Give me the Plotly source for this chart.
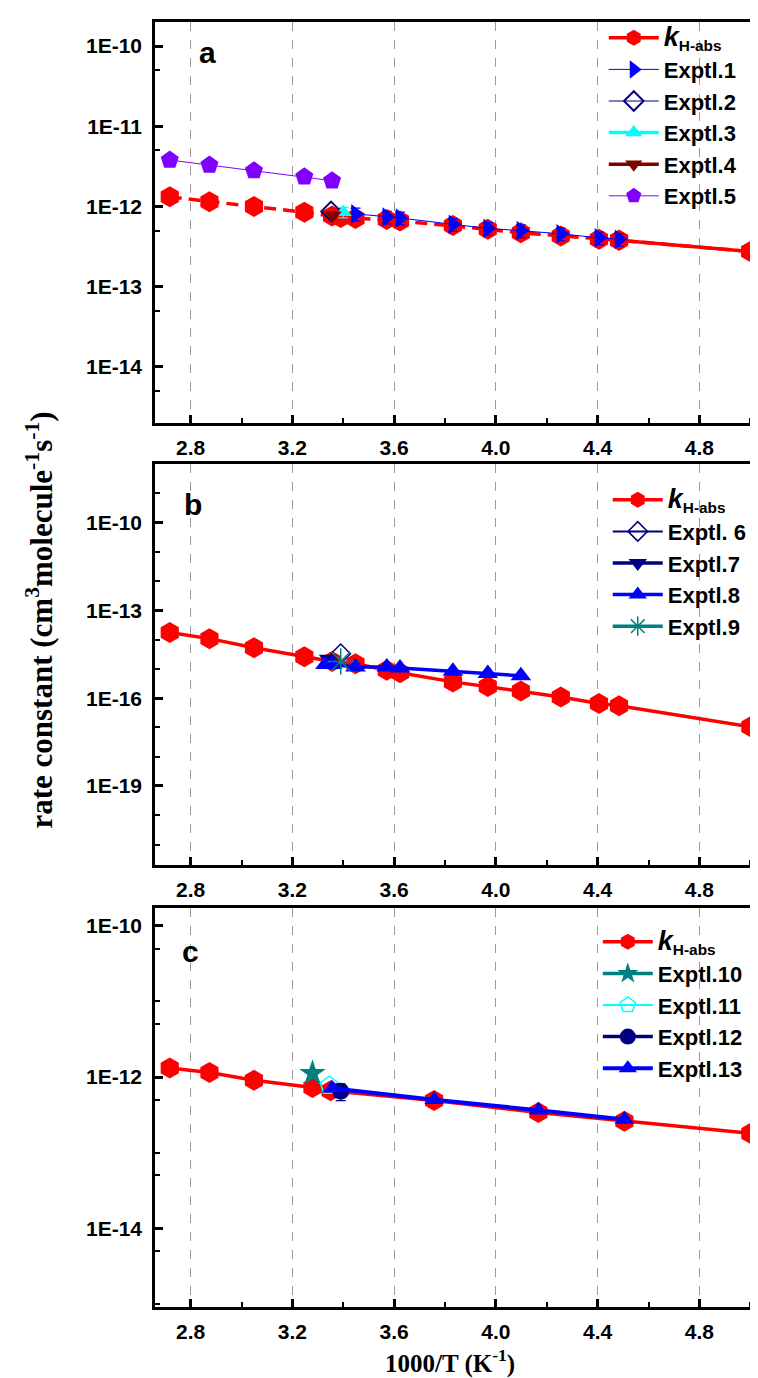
import plotly.graph_objects as go

# ---------------- data (x = 1000/T, y = rate constant) ----------------
# panel a
xa_k = [2.718, 2.874, 3.049, 3.247, 3.356, 3.390, 3.448, 3.571, 3.623, 3.831, 3.968, 4.098, 4.255, 4.405, 4.484, 5.0]
ya_k = [1.32e-12, 1.15e-12, 1.0e-12, 8.5e-13, 7.6e-13, 7.3e-13, 7.1e-13, 6.9e-13, 6.6e-13, 5.8e-13,
        5.2e-13, 4.7e-13, 4.3e-13, 3.9e-13, 3.8e-13, 2.75e-13]
xa_e1 = [3.448, 3.571, 3.623, 3.831, 3.968, 4.098, 4.255, 4.405, 4.484]
ya_e1 = [8.1e-13, 7.4e-13, 7.2e-13, 6.0e-13, 5.35e-13, 5.0e-13, 4.57e-13, 4.07e-13, 3.9e-13]
xa_e2 = [3.352]
ya_e2 = [8.7e-13]
xa_e3 = [3.40]
ya_e3 = [8.5e-13]
xa_e4 = [3.36]
ya_e4 = [7.8e-13]
xa_e5 = [2.718, 2.874, 3.049, 3.247, 3.356]
ya_e5 = [3.8e-12, 3.3e-12, 2.8e-12, 2.35e-12, 2.1e-12]

# panel b
xb_k = [2.718, 2.874, 3.049, 3.247, 3.356, 3.448, 3.571, 3.623, 3.831, 3.968, 4.098, 4.255, 4.405, 4.484, 5.0]
yb_k = [1.75e-14, 1.08e-14, 5.3e-15, 2.6e-15, 1.8e-15, 1.5e-15, 9.0e-16, 7.4e-16, 3.6e-16, 2.5e-16,
        1.75e-16, 1.1e-16, 6.6e-17, 5.5e-17, 1.05e-17]
xb_e6 = [3.39]
yb_e6 = [3.3e-15]
xb_e7 = [3.34]
yb_e7 = [2.2e-15]
xb_e8 = [3.33, 3.356, 3.448, 3.571, 3.623, 3.831, 3.968, 4.098]
yb_e8 = [1.4e-15, 1.4e-15, 1.17e-15, 1.17e-15, 1.07e-15, 8.3e-16, 6.9e-16, 5.8e-16]
xb_e9 = [3.39]
yb_e9 = [1.8e-15]

# panel c
xc_k = [2.718, 2.874, 3.049, 3.279, 3.350, 3.757, 4.167, 4.505, 5.0]
yc_k = [1.32e-12, 1.15e-12, 9.1e-13, 7.3e-13, 6.6e-13, 4.9e-13, 3.4e-13, 2.6e-13, 1.8e-13]
xc_e10 = [3.279]
yc_e10 = [1.12e-12]
xc_e11 = [3.345]
yc_e11 = [7.7e-13]
xc_e12 = [3.39]
yc_e12 = [6.5e-13]
xc_e13 = [3.356, 3.757, 4.167, 4.505]
yc_e13 = [7.1e-13, 5.0e-13, 3.65e-13, 2.75e-13]

x_ticks = [2.8, 3.2, 3.6, 4.0, 4.4, 4.8]
x_ticktext = ["2.8", "3.2", "3.6", "4.0", "4.4", "4.8"]
x_minor = [3.0, 3.4, 3.8, 4.2, 4.6, 5.0]

ya_ticks = [1e-10, 1e-11, 1e-12, 1e-13, 1e-14]
ya_text = ["1E-10", "1E-11", "1E-12", "1E-13", "1E-14"]
ya_minor = [5e-11, 5e-12, 5e-13, 5e-14, 5e-15]
yb_ticks = [1e-10, 1e-13, 1e-16, 1e-19]
yb_text = ["1E-10", "1E-13", "1E-16", "1E-19"]
yb_minor = [1e-8, 1e-9, 1e-11, 1e-12, 1e-14, 1e-15, 1e-17, 1e-18, 1e-20, 1e-21]
yc_ticks = [1e-10, 1e-12, 1e-14]
yc_text = ["1E-10", "1E-12", "1E-14"]
yc_minor = [5e-11, 1e-11, 5e-12, 5e-13, 1e-13, 5e-14, 5e-15, 1e-15]

KLABEL = '<span style="font-size:27px"><i>k</i></span><sub>H-abs</sub>'

RED = "#FF0000"
BLUE = "#0000FF"
NAVY = "#000080"
CYAN = "#00FFFF"
DRED = "#800000"
PURP = "#8000FF"
TEAL = "#008080"

fig = go.Figure()


def add(x, y, ax, name, symbol, color, size, lw, legend, mode="lines+markers",
        dash="solid", show=True, err=None, mline=0):
    t = dict(x=x, y=y, mode=mode, name=name, xaxis="x" + ax, yaxis="y" + ax,
             legend=legend, showlegend=show,
             line=dict(color=color, width=lw, dash=dash),
             marker=dict(symbol=symbol, size=size, color=color,
                         line=dict(color=color, width=mline)))
    if err is not None:
        t["error_y"] = dict(type="percent", value=err, color=color, thickness=1.2, width=5)
    fig.add_trace(go.Scatter(**t))


# panel a
add(xa_k, ya_k, "", KLABEL, "hexagon", RED, 21, 3.5, "legend", dash="12px,7px", show=False)
add(xa_k[-2:], ya_k[-2:], "", KLABEL, "hexagon", RED, 21, 3.5, "legend")
add(xa_e1, ya_e1, "", "Exptl.1", "triangle-right", BLUE, 17, 1, "legend", err=18)
add(xa_e2, ya_e2, "", "Exptl.2", "diamond-open", NAVY, 15, 1, "legend", mline=2)
add(xa_e3, ya_e3, "", "Exptl.3", "triangle-up", CYAN, 15, 3.5, "legend", err=15)
add(xa_e4, ya_e4, "", "Exptl.4", "triangle-down", DRED, 15, 3.5, "legend")
add(xa_e5, ya_e5, "", "Exptl.5", "pentagon", PURP, 19, 1, "legend")

# panel b
add(xb_k, yb_k, "2", KLABEL, "hexagon", RED, 21, 3.5, "legend2")
add(xb_e6, yb_e6, "2", "Exptl. 6", "diamond-open", NAVY, 15, 2, "legend2", mline=1.5)
add(xb_e7, yb_e7, "2", "Exptl.7", "triangle-down", NAVY, 16, 3.5, "legend2")
add(xb_e8, yb_e8, "2", "Exptl.8", "triangle-up", BLUE, 18, 3.5, "legend2")
add(xb_e9, yb_e9, "2", "Exptl.9", "asterisk-open", TEAL, 22, 3.5, "legend2", mline=1.5)

# panel c
add(xc_k, yc_k, "3", KLABEL, "hexagon", RED, 21, 3.5, "legend3")
add(xc_e10, yc_e10, "3", "Exptl.10", "star", TEAL, 20, 3.5, "legend3")
add(xc_e11, yc_e11, "3", "Exptl.11", "pentagon-open", CYAN, 19, 2, "legend3", mline=1.5)
add(xc_e12, yc_e12, "3", "Exptl.12", "circle", NAVY, 17, 3.5, "legend3", err=25)
add(xc_e13, yc_e13, "3", "Exptl.13", "triangle-up", BLUE, 17, 4, "legend3")

# ---------------- layout ----------------
W, H = 758, 1378
ML, MR, MT, MB = 147, 3, 14, 79
PH = H - MT - MB
PW = W - ML - MR


def pdom(top_px, bot_px):
    return [(H - MB - bot_px) / PH, (H - MB - top_px) / PH]


TICKFONT = dict(family="Liberation Sans", size=21, color="black", weight="bold")


def xax(anchor):
    return dict(range=[2.66, 5.038], tickmode="array", tickvals=x_ticks, ticktext=x_ticktext,
                ticks="inside", ticklen=8, tickwidth=2.5, tickcolor="black",
                showline=True, linewidth=2.5, linecolor="black", mirror=True,
                showgrid=True, gridcolor="#9a9a9a", griddash="dash", gridwidth=1,
                zeroline=False, tickfont=TICKFONT, anchor=anchor, ticklabelstandoff=4,
                minor=dict(tickmode="array", tickvals=x_minor, ticks="inside", ticklen=5,
                           tickwidth=2, tickcolor="black", showgrid=False))


def yax(rng, tv, tt, mv, dom, anchor):
    return dict(type="log", range=rng, tickmode="array", tickvals=tv, ticktext=tt,
                ticks="inside", ticklen=8, tickwidth=2.5, tickcolor="black",
                showline=True, linewidth=2.5, linecolor="black", mirror=True,
                showgrid=False, zeroline=False, tickfont=TICKFONT, domain=dom, anchor=anchor,
                ticklabelstandoff=6,
                minor=dict(tickmode="array", tickvals=mv, ticks="inside", ticklen=5,
                           tickwidth=2, tickcolor="black", showgrid=False))


LEGFONT = dict(family="Liberation Sans", size=22, color="black", weight="bold")


def leg(xpx, ypx):
    return dict(x=(xpx - ML) / PW, y=(H - MB - ypx) / PH, xanchor="left", yanchor="top",
                bgcolor="rgba(0,0,0,0)", font=LEGFONT, itemwidth=50,
                traceorder="normal", itemsizing="trace")


def letter(txt, ax, xpx, ypx, top_px, bot_px):
    return dict(text="<b>%s</b>" % txt, xref="x%s domain" % ax, yref="y%s domain" % ax,
                x=(xpx - ML) / PW, y=(bot_px - ypx) / (bot_px - top_px),
                xanchor="center", yanchor="middle", showarrow=False,
                font=dict(family="Liberation Sans", size=30, color="black"))


fig.update_layout(
    width=W, height=H, margin=dict(l=ML, r=MR, t=MT, b=MB),
    paper_bgcolor="white", plot_bgcolor="white", showlegend=True,
    xaxis=xax("y"), xaxis2=xax("y2"), xaxis3=xax("y3"),
    yaxis=yax([-14.699, -9.699], ya_ticks, ya_text, ya_minor, pdom(14, 415), "x"),
    yaxis2=yax([-21.7, -8.0], yb_ticks, yb_text, yb_minor, pdom(456, 857), "x2"),
    yaxis3=yax([-15.04, -9.765], yc_ticks, yc_text, yc_minor, pdom(900, 1299), "x3"),
    legend=leg(598, 9),
    legend2=leg(602, 471),
    legend3=leg(592, 913),
    annotations=[
        letter("a", "", 200, 44, 14, 415),
        letter("b", "2", 185, 496, 456, 857),
        letter("c", "3", 183, 943, 900, 1299),
        dict(text="<b>rate constant (cm<sup>3</sup>molecule<sup>-1</sup>s<sup>-1</sup>)</b>",
             xref="paper", yref="paper", x=(30 - ML) / PW, y=(H - MB - 612) / PH,
             textangle=-90, showarrow=False, xanchor="center", yanchor="middle",
             font=dict(family="Liberation Serif", size=31, color="black")),
        dict(text="<b>1000/T (K<sup>-1</sup>)</b>", xref="paper", yref="paper",
             x=(443 - ML) / PW, y=(H - MB - 1353) / PH, showarrow=False,
             xanchor="center", yanchor="middle",
             font=dict(family="Liberation Serif", size=25, color="black")),
    ],
)

fig.write_html("out.html")
